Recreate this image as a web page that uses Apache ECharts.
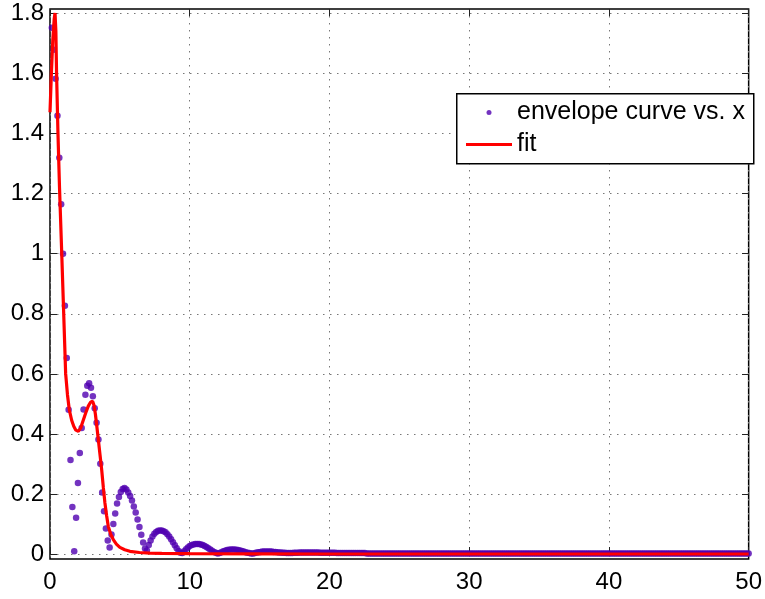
<!DOCTYPE html>
<html>
<head>
<meta charset="utf-8">
<script src="https://cdn.jsdelivr.net/npm/echarts@6/dist/echarts.min.js"></script>
<style>html,body{margin:0;padding:0;background:#fff}#c{width:765px;height:599px}</style>
</head>
<body>
<div id="c"></div>
<script>
// ---- data ----
const seriesNames = ['envelope curve vs. x', 'fit'];
const xTicks = [0, 10, 20, 30, 40, 50];
const yTicks = [0, 0.2, 0.4, 0.6, 0.8, 1.0, 1.2, 1.4, 1.6, 1.8];
const envelopeStep = 50 / 375;           // sample spacing of the dots (first dot at one step)
const envelopeHead = [
  1.751,1.678,1.581,1.458,1.318,1.164,0.999,0.826,0.652,0.480,0.313,0.156,0.009,
  0.121,0.236,0.336,0.419,0.481,0.530,0.560,0.568,
  0.553,0.525,0.485,0.437,0.381,0.300,0.205,0.142,0.085,0.045,0.022,
  0.065,0.100,0.135,0.168,0.190,0.206,0.216,0.220,0.215,0.205,0.193,0.178,0.158,0.138,0.115,0.090,0.064,0.038,0.018,
  0.012,0.030,0.045,0.058,0.067,0.073,0.077,0.078,0.078,0.076,0.072,0.066,0.058,0.049,0.039,0.029,0.019,0.010,0.004,0.003,0.009,
  0.016,0.022,0.027,0.030,0.032,0.033,0.033,0.033,0.032,0.030,0.027,0.023,0.019,0.015,0.011,0.007,0.004,0.002,0.003,
  0.006,0.009,0.011,0.013,0.014,0.015,0.015,0.015,0.014,0.013,0.012,0.010,0.008,0.006,0.004,0.003,0.002,0.002,
  0.003,0.005,0.006,0.007,0.008,0.008,0.008,0.008,0.008,0.008,0.007,0.007,0.006,0.005,0.005,0.004,0.004,0.003,0.003,0.003
];
const envelopeTail = [
  0.003,0.004,0.004,0.004,0.005,0.005,0.005,0.005,0.005,0.005,0.005,0.005,0.005,0.005,0.005,0.004,0.004,0.004,0.004,0.004,
  0.004,0.004,0.004,0.004,0.003,0.003,0.003,0.003,0.003,0.003,0.003,0.003,0.003,0.003,0.003,0.003,0.003,0.003,0.003,0.003,
  0.002,0.002,0.002,0.002,0.002,0.002,0.002,0.002,0.002,0.002,0.002,0.002,0.002,0.002,0.002,0.002,0.002,0.002,0.002,0.002,
  0.002,0.002,0.002,0.002,0.002,0.002,0.002,0.002,0.002,0.002,0.002,0.002,0.002,0.002,0.002,0.002,0.002,0.002,0.002,0.002,
  0.002,0.002,0.002,0.002,0.002,0.002,0.002,0.002,0.002,0.002,0.002,0.002,0.002,0.002,0.002,0.002,0.002,0.002,0.002,0.002,
  0.002,0.002,0.002,0.002,0.002,0.002,0.002,0.002,0.002,0.002,0.002,0.002,0.002,0.002,0.002,0.002,0.002,0.002,0.002,0.002,
  0.002,0.002,0.002,0.002,0.002,0.002,0.002,0.002,0.002,0.002,0.002,0.002,0.002,0.002,0.002,0.002,0.002,0.002,0.002,0.002,
  0.002,0.002,0.002,0.002,0.002,0.002,0.002,0.002,0.002,0.002,0.002,0.002,0.002,0.002,0.002,0.002,0.002,0.002,0.002,0.002,
  0.002,0.002,0.002,0.002,0.002,0.002,0.002,0.002,0.002,0.002,0.002,0.002,0.002,0.002,0.002,0.002,0.002,0.002,0.002,0.002,
  0.002,0.002,0.002,0.002,0.002,0.002,0.002,0.002,0.002,0.002,0.002,0.002,0.002,0.002,0.002,0.002,0.002,0.002,0.002,0.002,
  0.002,0.002,0.002,0.002,0.002,0.002,0.002,0.002,0.002,0.002,0.002,0.002,0.002,0.002,0.002,0.002,0.002,0.002,0.002,0.002,
  0.002,0.002,0.002,0.002,0.002,0.002,0.002,0.002,0.002,0.002,0.002,0.002,0.002,0.002,0.002,0.002,0.002,0.002,0.002,0.002,
  0.002,0.002,0.002,0.002,0.002,0.002
];
const fitX = [0,0.1,0.2,0.3,0.36,0.42,0.47,0.57,0.68,0.84,0.98,1.12,1.25,1.38,1.55,1.7,1.85,2.03,2.2,2.38,2.56,2.74,2.9,3.05,3.15,3.25,3.35,3.46,3.58,3.7,3.82,3.93,4.05,4.17,4.35,4.53,4.75,5.0,5.35,5.72,6.4,7.15,8,10,15,20,30,40,50];
const fitY = [1.47,1.60,1.71,1.78,1.80,1.74,1.60,1.40,1.22,1.00,0.80,0.60,0.53,0.48,0.445,0.425,0.412,0.408,0.42,0.445,0.47,0.492,0.505,0.508,0.495,0.465,0.425,0.38,0.33,0.28,0.22,0.17,0.128,0.092,0.065,0.048,0.033,0.022,0.014,0.009,0.005,0.003,0.002,0.001,0.0005,0,0,0,0];

// ---- build ----
const envelopeY = envelopeHead.concat(envelopeTail);
const envData = envelopeY.map((v, i) => [(i + 1) * envelopeStep, v]);
const fitData = fitX.map((x, i) => [x, fitY[i]]);

const FONT = 'Liberation Sans, Arial, Helvetica, sans-serif';
const PURPLE = '#5000b0';
const gridLine = { show: true, lineStyle: { color: '#777', width: 1, type: [1.5, 5.5] } };
const tick = { show: true, inside: true, length: 7, lineStyle: { color: '#222', width: 1 } };
const yMin = 0 - 5 / 300.6, yMax = 1.8 + 4 / 300.6;

const chart = echarts.init(document.getElementById('c'), null, { renderer: 'canvas' });
chart.setOption({
  animation: false,
  backgroundColor: '#fff',
  grid: [
    { left: 50, right: 16, top: 9, bottom: 40, show: true, borderColor: '#000', borderWidth: 1.5, backgroundColor: 'transparent' },
    { left: 50, right: 16, top: 13.3, bottom: 44.7, show: false }
  ],
  xAxis: [
    { type: 'value', gridIndex: 0, min: xTicks[0], max: xTicks[xTicks.length - 1], interval: 10, position: 'bottom',
      axisLine: { show: false }, axisTick: tick, splitLine: gridLine,
      axisLabel: { color: '#000', fontSize: 24, fontFamily: FONT, margin: 11 } },
    { type: 'value', gridIndex: 0, min: 0, max: 50, interval: 10, position: 'top',
      axisLine: { show: false }, axisTick: tick, splitLine: { show: false }, axisLabel: { show: false } },
    { type: 'value', gridIndex: 1, min: 0, max: 50, show: false }
  ],
  yAxis: [
    { type: 'value', gridIndex: 0, min: yMin, max: yMax, show: false },
    { type: 'value', gridIndex: 1, min: yTicks[0], max: yTicks[yTicks.length - 1], interval: 0.2, position: 'left',
      axisLine: { show: false }, axisTick: tick, splitLine: gridLine,
      axisLabel: { color: '#000', fontSize: 24, fontFamily: FONT, margin: 6 } },
    { type: 'value', gridIndex: 1, min: 0, max: 1.8, interval: 0.2, position: 'right',
      axisLine: { show: false }, axisTick: tick, splitLine: { show: false }, axisLabel: { show: false } }
  ],
  legend: {
    data: [
      { name: seriesNames[0], icon: 'circle', itemStyle: { color: PURPLE } },
      { name: seriesNames[1], icon: 'path://M0,0H46V3H0Z', itemStyle: { color: '#ff0000' } }
    ],
    orient: 'vertical', left: 466, top: 100, padding: 0,
    itemWidth: 46, itemHeight: 5, itemGap: 7,
    textStyle: { color: '#000', fontSize: 25, fontFamily: FONT }, z: 6
  },
  graphic: [{
    type: 'rect', z: 5, left: 456, top: 93,
    shape: { width: 297, height: 70 },
    style: { fill: '#fff', stroke: '#000', lineWidth: 1.5 }
  }],
  series: [
    { name: seriesNames[0], type: 'scatter', xAxisIndex: 0, yAxisIndex: 0, data: envData,
      symbol: 'circle', symbolSize: 6.5, clip: false,
      itemStyle: { color: PURPLE } },
    { name: seriesNames[1], type: 'line', xAxisIndex: 0, yAxisIndex: 0, data: fitData,
      symbol: 'none', smooth: false, clip: false,
      lineStyle: { color: '#ff0000', width: 3.2 }, itemStyle: { color: '#ff0000' } }
  ]
});
</script>
</body>
</html>
